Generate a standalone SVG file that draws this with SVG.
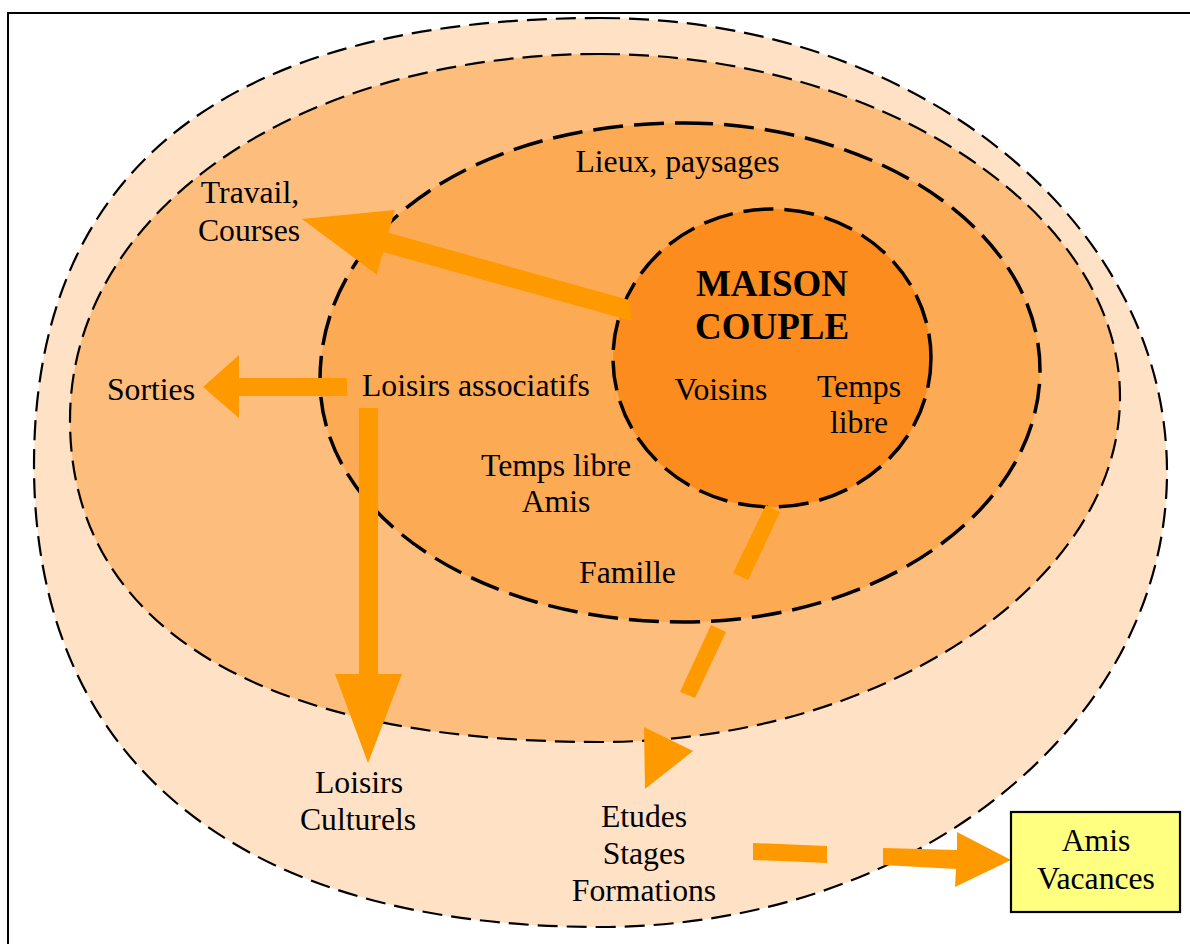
<svg xmlns="http://www.w3.org/2000/svg" width="1190" height="944" viewBox="0 0 1190 944">
<style>
.t{font-family:"Liberation Serif","Times New Roman",serif;font-size:31.7px;fill:#000;text-anchor:middle}
.b{font-weight:bold;font-size:37px}
.thin{stroke:#000;stroke-width:2.2;stroke-dasharray:20 9}
.thick{stroke:#000;stroke-width:3.5;stroke-dasharray:30 11}
.arr{fill:#FF9900;stroke:none}
</style>
<rect x="0" y="0" width="1190" height="944" fill="#fff"/>
<rect x="8" y="13" width="1200" height="1000" fill="none" stroke="#000" stroke-width="2"/>
<g id="zone-outer">
<path class="thin" fill="#FFE2C6" d="M600 18 C914.7 18 1167 220 1167 472 C1167 724.5 914.7 927 600 927 C237.8 927 34 760.7 34 465 C34 170 226 18 600 18 Z"/>
</g>
<g id="zone-middle">
<path class="thin" fill="#FDBD7C" d="M600 54 C880.8 54 1120 211.8 1120 397 C1120 583.3 880.8 742 600 742 C260.8 742 70 626.1 70 420 C70 211.4 297.9 54 600 54 Z"/>
</g>
<g id="zone-inner">
<path class="thick" fill="#FDAA55" d="M683 123 C880.1 123 1040 233.7 1040 370 C1040 509.1 880.1 622 683 622 C479.7 622 320 515.5 320 380 C320 230.9 472.5 123 683 123 Z"/>
</g>
<g id="maison">
<ellipse class="thick" fill="#FC8C1E" cx="772" cy="358" rx="159" ry="149"/>
<text class="t b" x="772" y="296">MAISON</text>
<text class="t b" x="772" y="339">COUPLE</text>
<text class="t" x="721" y="400">Voisins</text>
<text class="t" x="859" y="397">Temps</text>
<text class="t" x="859" y="433">libre</text>
</g>
<g id="connectors">
<polygon class="arr" points="302,219 394.8,210.1 388.5,232.8 629,300 632,321 383.1,252 376.8,274.7"/>
<polygon class="arr" points="203,387 239,355 239,378 347,378 347,396 239,396 239,418"/>
<polygon class="arr" points="368,763 335,674 359,674 359,408 378,408 378,674 402,674"/>
<polygon class="arr" points="766,505 780,512 748,580 733,573"/>
<polygon class="arr" points="711,625 726,632 695,698 680,692"/>
<polygon class="arr" points="644,727 693,751 645,789"/>
<polygon class="arr" points="753,843 827,846 827,863 753,860"/>
<polygon class="arr" points="883,848 957,850 957,832 1011,860 955,887 956,869 883,865"/>
</g>
<g id="labels-inner">
<text class="t" x="677.5" y="172">Lieux, paysages</text>
<text class="t" x="476" y="396">Loisirs associatifs</text>
<text class="t" x="556" y="476">Temps libre</text>
<text class="t" x="556" y="512">Amis</text>
<text class="t" x="627.5" y="583">Famille</text>
</g>
<g id="labels-middle">
<text class="t" x="250" y="203">Travail,</text>
<text class="t" x="249" y="241">Courses</text>
<text class="t" x="151" y="400">Sorties</text>
</g>
<g id="labels-outer">
<text class="t" x="359" y="793">Loisirs</text>
<text class="t" x="358" y="830">Culturels</text>
<text class="t" x="644" y="827">Etudes</text>
<text class="t" x="644" y="864">Stages</text>
<text class="t" x="644" y="901">Formations</text>
</g>
<g id="amis-vacances">
<rect x="1011" y="812" width="169" height="100" fill="#FFFF80" stroke="#000" stroke-width="2.2"/>
<text class="t" x="1096" y="851">Amis</text>
<text class="t" x="1096" y="889">Vacances</text>
</g>
</svg>
